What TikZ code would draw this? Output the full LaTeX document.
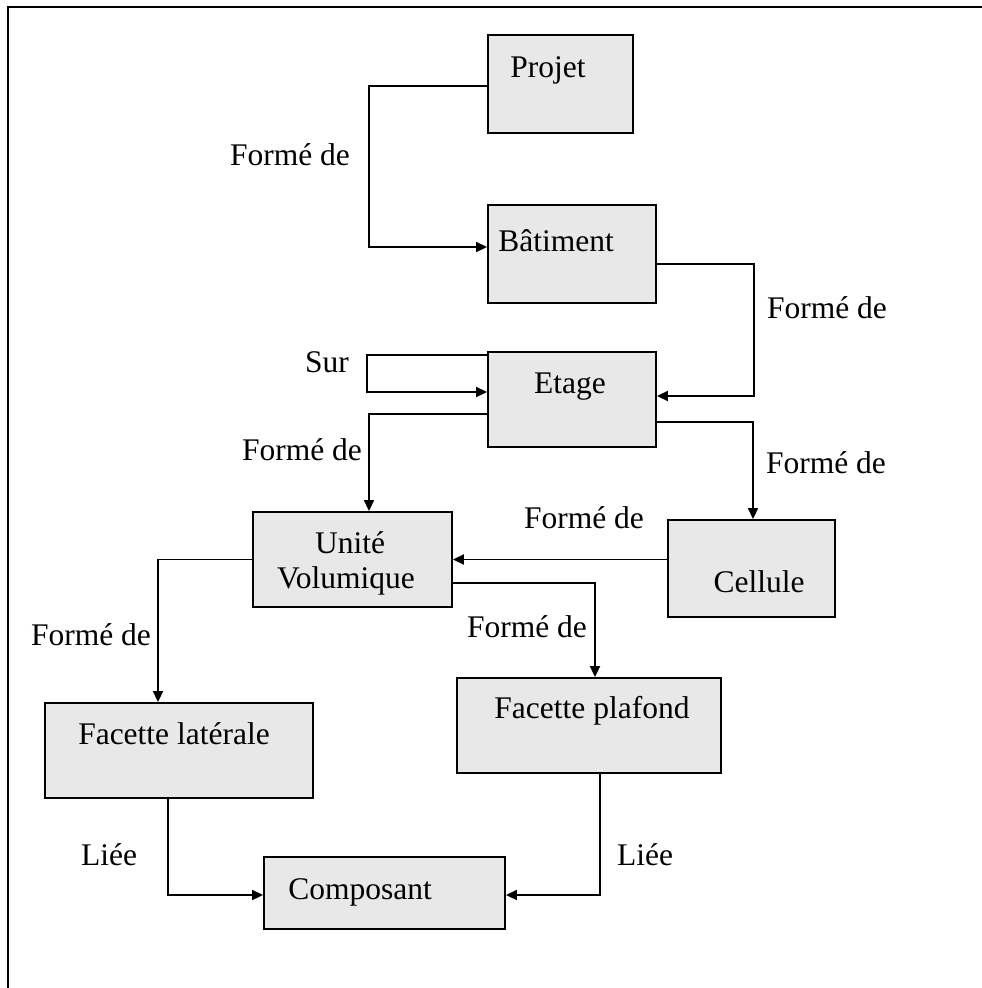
\documentclass[tikz,border=0pt]{standalone}
\usepackage{fontspec}
\setmainfont{Liberation Serif}
\usetikzlibrary{arrows.meta}
\definecolor{boxfill}{RGB}{232,232,232}
\tikzset{
  box/.style={draw=black, fill=boxfill, line width=1.9pt, rectangle, inner sep=0pt},
  txt/.style={font=\fontsize{31.5}{36}\selectfont, inner sep=0pt, anchor=base},
  lbl/.style={font=\fontsize{31.5}{36}\selectfont, inner sep=0pt, anchor=base},
  arr/.style={line width=1.9pt, -{Triangle[length=11pt,width=10pt]}},
  frame/.style={line width=2.2pt}
}
\begin{document}
\begin{tikzpicture}[x=1pt,y=-1pt]
\useasboundingbox (0,0) rectangle (982,988);
% outer frame (top and left edges)
\draw[frame] (8,988) -- (8,7) -- (982,7);

% boxes
\node[box, minimum width=145pt, minimum height=98pt] (projet)    at (560.5,84)  {};
\node[box, minimum width=168pt, minimum height=98pt] (batiment)  at (572,254)   {};
\node[box, minimum width=168pt, minimum height=95pt] (etage)     at (572,399.5) {};
\node[box, minimum width=199pt, minimum height=95pt] (unite)     at (352.5,559.5) {};
\node[box, minimum width=167pt, minimum height=97pt] (cellule)   at (751.5,568.5) {};
\node[box, minimum width=268pt, minimum height=95pt] (laterale)  at (179,750.5) {};
\node[box, minimum width=264pt, minimum height=95pt] (plafond)   at (589,725.5) {};
\node[box, minimum width=241pt, minimum height=72pt] (composant) at (384.5,893) {};

% box texts
\node[txt] (tprojet)   at (548,77)  {Projet};
\node[txt] (tbatiment) at (556,251) {Bâtiment};
\node[txt] (tetage)    at (570,393) {Etage};
\node[txt] (tunite1)   at (350,553) {Unité};
\node[txt] (tunite2)   at (346,588) {Volumique};
\node[txt] (tcellule)  at (759,592) {Cellule};
\node[txt] (tlaterale) at (174,744) {Facette latérale};
\node[txt] (tplafond)  at (592,718) {Facette plafond};
\node[txt] (tcompo)    at (360,899) {Composant};

% connectors
\draw[arr] ([yshift=-2pt]projet.west) -- ++(-118,0) |- ([yshift=7pt]batiment.west);
\draw[arr] ([yshift=-10pt]batiment.east) -- ++(97,0) |- ([yshift=3.5pt]etage.east);
\draw[arr] ([yshift=44.5pt]etage.west) -- ++(-120,0) |- ([yshift=7.5pt]etage.west);
\draw[arr] ([yshift=-14.5pt]etage.west) -| ([xshift=16.5pt]unite.north);
\draw[arr] ([yshift=-22.5pt]etage.east) -| ([xshift=1.5pt]cellule.north);
\draw[arr] (cellule.west |- unite.east) -- (unite.east);
\draw[arr] ([yshift=-23.5pt]unite.east) -| ([xshift=6pt]plafond.north);
\draw[arr] (unite.west) -| ([xshift=-21pt]laterale.north);
\draw[arr] ([xshift=-11pt]laterale.south) |- ([yshift=-2pt]composant.west);
\draw[arr] ([xshift=11pt]plafond.south) |- ([yshift=-2pt]composant.east);

% connector labels
\node[lbl] (l1)  at (290,165) {Formé de};
\node[lbl] (l2)  at (827,318) {Formé de};
\node[lbl] (l3)  at (327,372) {Sur};
\node[lbl] (l4)  at (302,460) {Formé de};
\node[lbl] (l5)  at (826,473) {Formé de};
\node[lbl] (l6)  at (584,528) {Formé de};
\node[lbl] (l7)  at (527,637) {Formé de};
\node[lbl] (l8)  at (91,645)  {Formé de};
\node[lbl] (l9)  at (109,865) {Liée};
\node[lbl] (l10) at (645,865) {Liée};
\end{tikzpicture}
\end{document}
